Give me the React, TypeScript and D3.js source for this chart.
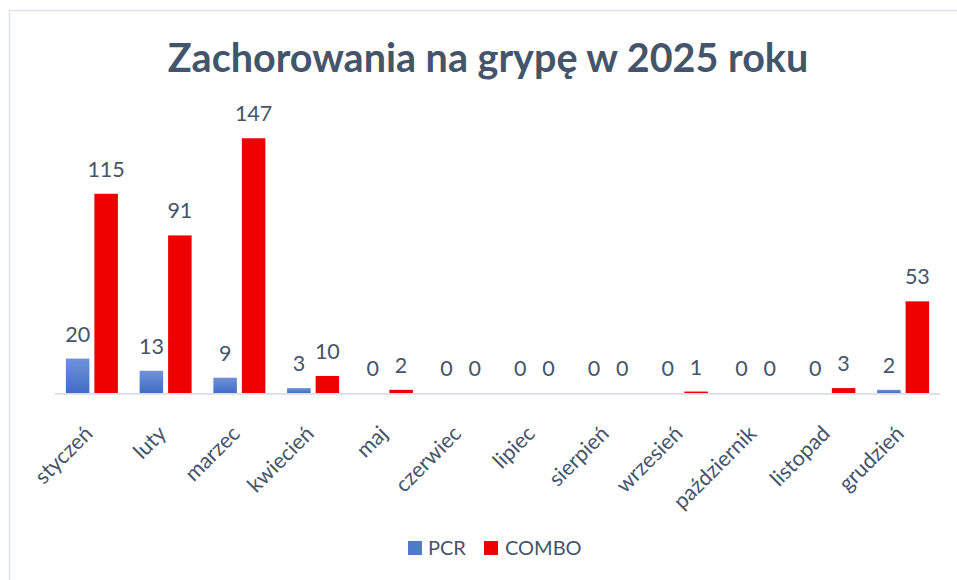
import React from "react";
import * as d3 from "d3";

const months = ["styczeń","luty","marzec","kwiecień","maj","czerwiec","lipiec","sierpień","wrzesień","październik","listopad","grudzień"];
const seriesNames = ["PCR", "COMBO"];
const pcr = [20, 13, 9, 3, 0, 0, 0, 0, 0, 0, 0, 2];
const combo = [115, 91, 147, 10, 2, 0, 0, 0, 1, 0, 3, 53];
const title = "Zachorowania na grypę w 2025 roku";

const W = 957, H = 580;
const TEXT = "#44546A";
const FONT = "Lato, 'Open Sans', sans-serif";

export default function App() {
  const x0 = d3.scaleBand<string>().domain(months).range([55, 940]).paddingInner(0.295).paddingOuter(0.1475);
  const x1 = d3.scaleBand<string>().domain(seriesNames).range([0, x0.bandwidth()]).paddingInner(0.175).paddingOuter(0);
  const y = d3.scaleLinear().domain([0, 160]).range([393.3, 115.7]);
  const values: Record<string, number[]> = { PCR: pcr, COMBO: combo };
  const fills: Record<string, string> = { PCR: "url(#blueGrad)", COMBO: "#EE0000" };

  return (
    <div style={{ position: "absolute", left: 0, top: 0, width: W, height: H, overflow: "hidden", background: "#fff" }}>
      <svg width={W} height={H} style={{ display: "block" }}>
        <defs>
          <linearGradient id="blueGrad" x1="0" y1="0" x2="0" y2="1">
            <stop offset="0" stopColor="#7092D8" />
            <stop offset="1" stopColor="#3F6DC6" />
          </linearGradient>
        </defs>
        <rect x={9.5} y={10.5} width={1000} height={700} fill="#fff" stroke="#DCE3EE" strokeWidth={1.5} />
        <text x={488} y={72} textAnchor="middle" fontFamily={FONT} fontWeight={700} fontSize={39.5} fill={TEXT}>{title}</text>

        {months.map((m, i) => (
          <g key={m} transform={`translate(${x0(m)},0)`}>
            {seriesNames.map((s) => {
              const v = values[s][i];
              const bx = x1(s)!;
              const top = y(v);
              return (
                <g key={s}>
                  {v > 0 && <rect x={bx} y={top} width={x1.bandwidth()} height={y(0) - top} fill={fills[s]} />}
                  <text x={bx + x1.bandwidth() / 2} y={top - 17} textAnchor="middle" fontFamily={FONT} fontSize={21.5} fill={TEXT}>{v}</text>
                </g>
              );
            })}
          </g>
        ))}

        <line x1={55} x2={940} y1={y(0) + 0.5} y2={y(0) + 0.5} stroke="#D9DEE6" strokeWidth={1.8} />

        {months.map((m) => {
          const cx = x0(m)! + x0.bandwidth() / 2;
          return (
            <text key={m} transform={`translate(${cx + 2},435) rotate(-45)`} textAnchor="end" fontFamily={FONT} fontSize={21.5} fill={TEXT}>{m}</text>
          );
        })}

        <g>
          <rect x={408} y={541} width={14} height={14} fill="#4F7BCC" />
          <text x={428} y={555} fontFamily={FONT} fontSize={20} fill={TEXT}>PCR</text>
          <rect x={484} y={541} width={14} height={14} fill="#EE0000" />
          <text x={505} y={555} fontFamily={FONT} fontSize={20} fill={TEXT}>COMBO</text>
        </g>
      </svg>
    </div>
  );
}
